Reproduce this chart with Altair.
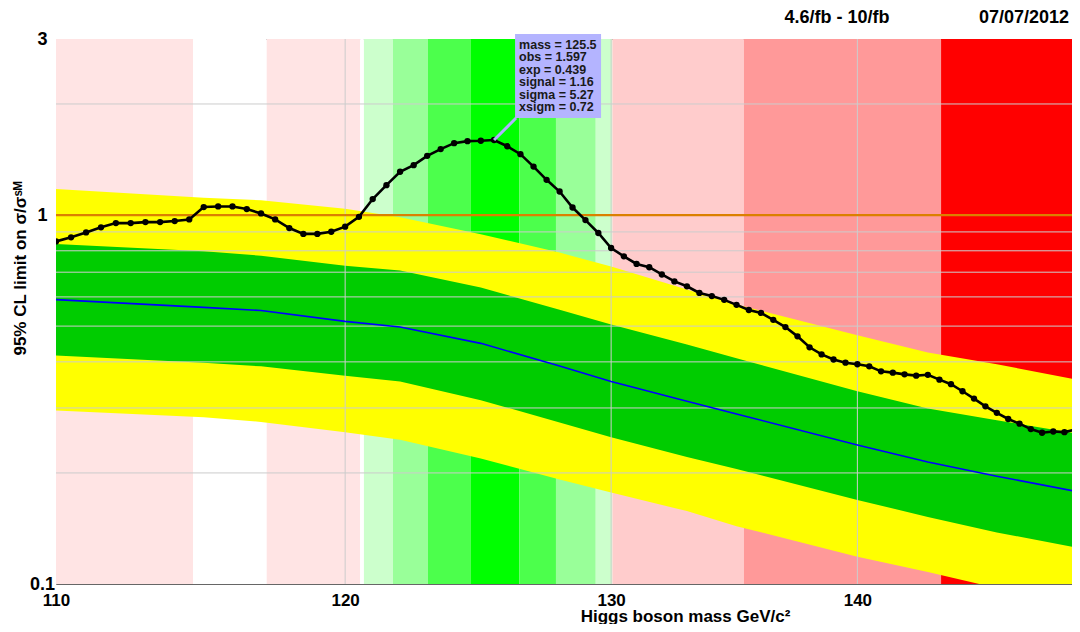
import altair as alt
import pandas as pd

# ---------------- data ----------------
obs_mass = [110, 110.5, 111, 111.5, 112, 112.5, 113, 113.5, 114, 114.5,
            115, 115.5, 116, 116.5, 117, 117.5, 118, 118.5, 119, 119.5,
            120, 120.5, 121, 121.5, 122, 122.5, 123, 123.5, 124, 124.5,
            125, 125.5, 126, 126.5, 127, 127.5, 128, 128.5, 129, 129.5,
            130, 130.5, 131, 131.5, 132, 132.5, 133, 133.5, 134, 134.5,
            135, 135.5, 136, 136.5, 137, 137.5, 138, 138.5, 139, 139.5,
            140, 140.5, 141, 141.5, 142, 142.5, 143, 143.5, 144, 144.5,
            145, 145.5, 146, 146.5, 147, 147.5, 148, 148.5, 149, 149.5]
obs_limit = [0.848, 0.870, 0.897, 0.926, 0.951, 0.951, 0.957, 0.957, 0.963, 0.973,
             1.051, 1.055, 1.055, 1.038, 1.010, 0.973, 0.922, 0.889, 0.889, 0.901,
             0.930, 0.989, 1.105, 1.205, 1.310, 1.365, 1.447, 1.509, 1.566, 1.586,
             1.590, 1.597, 1.536, 1.462, 1.353, 1.246, 1.158, 1.048, 0.969, 0.894,
             0.814, 0.773, 0.737, 0.722, 0.690, 0.661, 0.641, 0.615, 0.603, 0.589,
             0.571, 0.553, 0.543, 0.520, 0.497, 0.469, 0.438, 0.419, 0.406, 0.398,
             0.394, 0.389, 0.377, 0.374, 0.370, 0.367, 0.369, 0.358, 0.348, 0.333,
             0.318, 0.303, 0.291, 0.280, 0.272, 0.263, 0.257, 0.259, 0.258, 0.262]

exp_mass = [110, 115, 117, 120, 122, 125, 128, 130, 133, 135, 140, 143, 146, 150]
exp_plus2 = [1.176, 1.114, 1.096, 1.040, 0.986, 0.887, 0.791, 0.725, 0.628, 0.572, 0.472, 0.424, 0.394, 0.354]
exp_plus1 = [0.835, 0.798, 0.776, 0.729, 0.707, 0.636, 0.554, 0.505, 0.446, 0.409, 0.333, 0.299, 0.278, 0.253]
exp_median = [0.590, 0.562, 0.551, 0.515, 0.497, 0.449, 0.390, 0.354, 0.313, 0.289, 0.238, 0.214, 0.196, 0.176]
exp_minus1 = [0.416, 0.398, 0.389, 0.367, 0.354, 0.315, 0.274, 0.250, 0.221, 0.205, 0.169, 0.152, 0.138, 0.124]
exp_minus2 = [0.2955, 0.283, 0.275, 0.258, 0.246, 0.219, 0.192, 0.177, 0.1576, 0.1435, 0.1185, 0.1077, 0.0975, 0.0877]

band_start = [110, 114.63, 117.2, 120.54, 120.68, 121.74, 123.03, 124.63, 126.46, 127.86, 129.4, 130.05, 135.3, 143.57]
band_end = [114.63, 117.2, 120.54, 120.68, 121.74, 123.03, 124.63, 126.46, 127.86, 129.4, 130.05, 135.3, 143.57, 150]
band_color = ["#FFE4E4", "#FFFFFF", "#FFE4E4", "#FFFFFF", "#CCFFCC", "#99FF99", "#4CFF4C",
              "#00FF00", "#4CFF4C", "#99FF99", "#CCFFCC", "#FFCCCC", "#FF9999", "#FF0000"]

grid_x = [120, 130, 140]
grid_y = [0.2, 0.3, 0.4, 0.5, 0.6, 0.7, 0.8, 0.9, 1, 2]
x_ticks = [110, 120, 130, 140]
y_ticks = [0.1, 1, 3]

tip_mass = 125.5
tip_obs = 1.597
tip_exp = 0.439
tip_signal = 1.16
tip_sigma = 5.27
tip_xsigm = 0.72

lumi_text = "4.6/fb - 10/fb"
date_text = "07/07/2012"

# ---------------- tables ----------------
obs_df = pd.DataFrame({"mass": obs_mass, "limit": obs_limit})
exp_df = pd.DataFrame({"mass": exp_mass, "p2": exp_plus2, "p1": exp_plus1,
                       "med": exp_median, "m1": exp_minus1, "m2": exp_minus2})
band_df = pd.DataFrame({"start": band_start, "end": band_end, "color": band_color})
gx_df = pd.DataFrame({"mass": grid_x})
gy_df = pd.DataFrame({"limit": grid_y})
one_df = pd.DataFrame({"limit": [1.0]})
tip_df = pd.DataFrame({"mass": [tip_mass], "limit": [tip_obs]})
tip_lines = [f"mass = {tip_mass}", f"obs = {tip_obs}", f"exp = {tip_exp}",
             f"signal = {tip_signal}", f"sigma = {tip_sigma}", f"xsigm = {tip_xsigm}"]

FONT = "Liberation Sans"

xscale = alt.Scale(type="log", domain=[110, 149.34], nice=False, zero=False)
yscale = alt.Scale(type="log", domain=[0.1, 3], nice=False, zero=False)

xaxis = alt.Axis(values=x_ticks, format="d", grid=False, ticks=False, tickSize=0, domain=False,
                 labelFlush=False, labelOverlap=False, labelPadding=8,
                 labelFont=FONT, labelFontSize=17, labelFontWeight="bold", labelColor="#000000",
                 title="Higgs boson mass GeV/c²", titleFont=FONT, titleFontSize=17,
                 titleFontWeight="bold", titleColor="#000000", titleX=629, titleY=37,
                 titleAlign="center", titleBaseline="alphabetic")
yaxis = alt.Axis(values=y_ticks, format="~g", grid=False, ticks=False, tickSize=0, domain=False,
                 labelOverlap=False, labelPadding=14, labelAlign="center", labelBaseline="middle",
                 labelFont=FONT, labelFontSize=18, labelFontWeight="bold", labelColor="#000000",
                 title="95% CL limit on σ/σˢᴹ", titleFont=FONT, titleFontSize=17,
                 titleFontWeight="bold", titleColor="#000000", titleX=-36, titleY=229,
                 titleAngle=270, titleAlign="center", titleBaseline="middle")


def X(field):
    return alt.X(f"{field}:Q", scale=xscale, axis=xaxis)


def Y(field):
    return alt.Y(f"{field}:Q", scale=yscale, axis=yaxis)


bands = alt.Chart(band_df).mark_rect(clip=True).encode(
    x=X("start"), x2="end", color=alt.Color("color:N", scale=None))

yellow = alt.Chart(exp_df).mark_area(color="#FFFF00", clip=True, opacity=1).encode(
    x=X("mass"), y=Y("p2"), y2="m2")
green = alt.Chart(exp_df).mark_area(color="#00CC00", clip=True, opacity=1).encode(
    x=X("mass"), y=Y("p1"), y2="m1")

gridx = alt.Chart(gx_df).mark_rule(color="#CCCCCC", strokeWidth=1).encode(x=X("mass"))
gridy = alt.Chart(gy_df).mark_rule(color="#CCCCCC", strokeWidth=1).encode(y=Y("limit"))

unity = alt.Chart(one_df).mark_rule(color="#DB8000", strokeWidth=2.2).encode(y=Y("limit"))

median = alt.Chart(exp_df).mark_line(color="#0000FF", strokeWidth=1.6, clip=True).encode(
    x=X("mass"), y=Y("med"))

obs_line = alt.Chart(obs_df).mark_line(color="#000000", strokeWidth=2.6, clip=True).encode(
    x=X("mass"), y=Y("limit"))
obs_pts = alt.Chart(obs_df).mark_point(filled=True, color="#000000", size=40, opacity=1, clip=True).encode(
    x=X("mass"), y=Y("limit"))

pointer = alt.Chart(tip_df).mark_rule(color="#B0B0FF", strokeWidth=3, x2Offset=22, y2Offset=-22).encode(
    x=X("mass"), x2="mass", y=Y("limit"), y2="limit")
box = alt.Chart(tip_df).mark_rect(color="#B4B4FF", opacity=1, xOffset=21, x2Offset=107,
                                  yOffset=-106, y2Offset=-22).encode(
    x=X("mass"), x2="mass", y=Y("limit"), y2="limit")

tip_texts = []
for i, line in enumerate(tip_lines):
    tip_texts.append(
        alt.Chart(tip_df).mark_text(
            text=line, align="left", baseline="middle", dx=25, dy=-95 + 12.4 * i,
            font=FONT, fontSize=12.5, fontWeight="bold", color="#1A1A1A").encode(
            x=X("mass"), y=Y("limit")))

lumi = alt.Chart(pd.DataFrame({"t": [lumi_text]})).mark_text(
    font=FONT, fontSize=18, fontWeight="bold", color="#000000", align="center",
    baseline="middle").encode(x=alt.value(781), y=alt.value(-21), text="t:N")
date = alt.Chart(pd.DataFrame({"t": [date_text]})).mark_text(
    font=FONT, fontSize=18, fontWeight="bold", color="#000000", align="right",
    baseline="middle").encode(x=alt.value(1013), y=alt.value(-21), text="t:N")

chart = alt.layer(bands, yellow, green, gridx, gridy, unity, median, obs_line, obs_pts,
                  pointer, box, *tip_texts, lumi, date).properties(
    width=1016, height=545,
    autosize=alt.AutoSizeParams(type="none"),
    padding={"left": 48, "top": 31, "right": 0, "bottom": 40},
    background="#FFFFFF",
).configure_view(stroke="#666666", strokeWidth=1)

chart.save("out.html", embed_options={"renderer": "svg", "actions": False})
